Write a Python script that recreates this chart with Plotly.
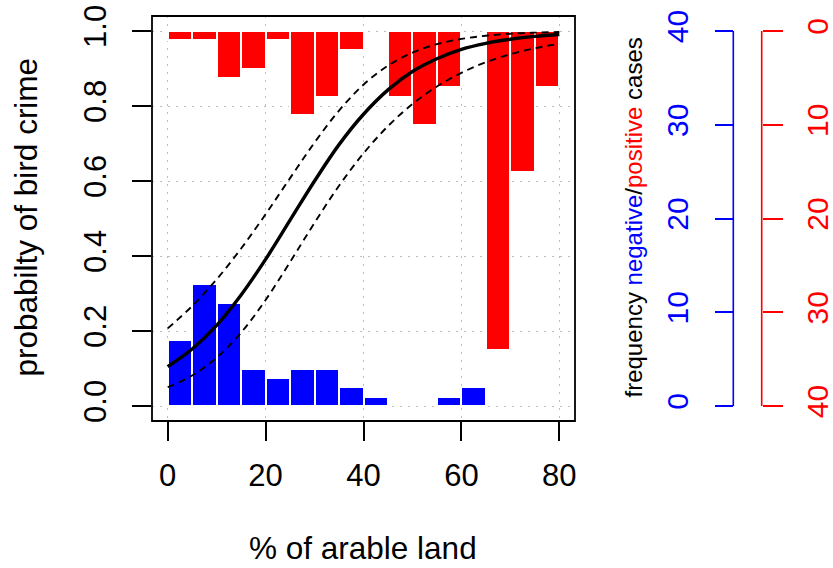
import plotly.graph_objects as go

# ---------------- data ----------------
bin_start = [0, 5, 10, 15, 20, 25, 30, 35, 40, 45, 50, 55, 60, 65, 70, 75]
bin_width = 5
negative_counts = [7, 13, 11, 4, 3, 4, 4, 2, 1, 0, 0, 1, 2, 0, 0, 0]
positive_counts = [1, 1, 5, 4, 1, 9, 7, 2, 0, 7, 10, 6, 0, 34, 15, 6]

curve_x = [0, 5, 10, 15, 20, 25, 30, 35, 40, 45, 50, 55, 60, 65, 70, 75, 80]
fit_prob = [0.105, 0.152, 0.215, 0.296, 0.391, 0.4955, 0.600, 0.697, 0.778,
            0.843, 0.892, 0.926, 0.951, 0.967, 0.978, 0.9857, 0.9906]
upper_prob = [0.207, 0.2665, 0.3376, 0.4199, 0.5112, 0.6076, 0.7026, 0.7878,
              0.8568, 0.9076, 0.9423, 0.9649, 0.9789, 0.9874, 0.9926, 0.9956, 0.9974]
lower_prob = [0.050, 0.0814, 0.1288, 0.1958, 0.2827, 0.3838, 0.4886, 0.5873,
              0.6737, 0.7463, 0.8053, 0.8522, 0.8886, 0.9168, 0.9381, 0.9541, 0.9661]

x_ticks = [0, 20, 40, 60, 80]
y_ticks = [0, 0.2, 0.4, 0.6, 0.8, 1.0]
y_tick_labels = ["0.0", "0.2", "0.4", "0.6", "0.8", "1.0"]
count_ticks = [0, 10, 20, 30, 40]

x_title = "% of arable land"
y_title = "probabilty of bird crime"
right_title = ('frequency <span style="color:#0000FF">negative</span>/'
               '<span style="color:#FF0000">positive</span> cases')

# ---------------- geometry / style ----------------
W, H = 833, 568
ML, MR, MT, MB = 152, 3, 16, 147
PW = W - ML - MR
PH = H - MT - MB
BOX_RIGHT = 575
XDOM = (BOX_RIGHT - ML) / PW
BLUE_POS = (733.3 - ML) / PW
RED_POS = (761.7 - ML) / PW

FONT = "Liberation Sans, Arial, Helvetica, sans-serif"
BLUE = "#0000FF"
RED = "#FF0000"
GRID = "#BEBEBE"

def px_x(p):
    return (p - ML) / PW

def px_y(p):
    return (MT + PH - p) / PH

fig = go.Figure()

centers = [b + bin_width / 2 for b in bin_start]
neg_x = [c for c, n in zip(centers, negative_counts) if n > 0]
neg_y = [n for n in negative_counts if n > 0]
pos_x = [c for c, n in zip(centers, positive_counts) if n > 0]
pos_y = [n for n in positive_counts if n > 0]

# blue (negative) counts -> main y axis (blue count axis)
fig.add_trace(go.Bar(x=neg_x, y=neg_y, width=bin_width, xaxis="x", yaxis="y",
                     marker=dict(color=BLUE, line=dict(color="white", width=2)),
                     showlegend=False))
# red (positive) counts -> reversed red count axis
fig.add_trace(go.Bar(x=pos_x, y=pos_y, width=bin_width, xaxis="x", yaxis="y2",
                     marker=dict(color=RED, line=dict(color="white", width=2)),
                     showlegend=False))
# probability curves -> probability axis (drawn last, on top)
fig.add_trace(go.Scatter(x=curve_x, y=upper_prob, mode="lines", yaxis="y3",
                         line=dict(color="black", width=1.9, dash="7px,5px", shape="spline"),
                         showlegend=False))
fig.add_trace(go.Scatter(x=curve_x, y=lower_prob, mode="lines", yaxis="y3",
                         line=dict(color="black", width=1.9, dash="7px,5px", shape="spline"),
                         showlegend=False))
fig.add_trace(go.Scatter(x=curve_x, y=fit_prob, mode="lines", yaxis="y3",
                         line=dict(color="black", width=3.4, shape="spline"),
                         showlegend=False))

tick_font = dict(family=FONT, size=31, color="black")

fig.update_layout(
    template="none",
    width=W, height=H,
    margin=dict(l=ML, r=MR, t=MT, b=MB, pad=0, autoexpand=False),
    paper_bgcolor="white", plot_bgcolor="white",
    barmode="overlay", bargap=0,
    font=dict(family=FONT, color="black"),
    xaxis=dict(domain=[0, XDOM], range=[-3.2, 83.2], tickvals=x_ticks,
               anchor="y3", automargin=False,
               ticks="outside", ticklen=19, tickwidth=1.5, tickcolor="black",
               tickfont=tick_font, ticklabelstandoff=8,
               showgrid=True, gridcolor=GRID, gridwidth=1.2, griddash="2px,6px",
               zeroline=False, showline=False),
    yaxis=dict(anchor="free", position=BLUE_POS, side="left", automargin=False,
               range=[-1.6, 41.6], tickvals=count_ticks, tickangle=-90,
               ticks="outside", ticklen=18, tickwidth=1.5, tickcolor=BLUE,
               tickfont=dict(family=FONT, size=30, color=BLUE), ticklabelstandoff=15,
               showgrid=False, zeroline=False, showline=False),
    yaxis2=dict(overlaying="y", anchor="free", position=RED_POS, side="right",
                automargin=False,
                range=[41.6, -1.6], tickvals=count_ticks, tickangle=-90,
                ticks="outside", ticklen=20, tickwidth=1.5, tickcolor=RED,
                tickfont=dict(family=FONT, size=30, color=RED), ticklabelstandoff=9,
                showgrid=False, zeroline=False, showline=False),
    yaxis3=dict(overlaying="y", anchor="x", side="left", automargin=False,
                range=[-0.04, 1.04], tickvals=y_ticks, ticktext=y_tick_labels,
                tickangle=-90, ticks="outside", ticklen=19, tickwidth=1.5,
                tickcolor="black", tickfont=tick_font, ticklabelstandoff=14,
                showgrid=True, gridcolor=GRID, gridwidth=1.2, griddash="2px,6px",
                zeroline=False, showline=False),
    shapes=[
        dict(type="rect", xref="x domain", yref="y domain", x0=0, x1=1, y0=0, y1=1,
             line=dict(color="black", width=1.8), layer="above"),
        dict(type="line", xref="paper", yref="y", x0=BLUE_POS, x1=BLUE_POS,
             y0=count_ticks[0], y1=count_ticks[-1], line=dict(color=BLUE, width=1.6)),
        dict(type="line", xref="paper", yref="y2", x0=RED_POS, x1=RED_POS,
             y0=count_ticks[0], y1=count_ticks[-1], line=dict(color=RED, width=1.6)),
    ],
    annotations=[
        dict(text=x_title, xref="paper", yref="paper", x=px_x(363.4), y=px_y(548),
             xanchor="center", yanchor="middle", showarrow=False,
             font=dict(family=FONT, size=31.5, color="black")),
        dict(text=y_title, xref="paper", yref="paper", x=px_x(25), y=px_y(217.5),
             xanchor="center", yanchor="middle", textangle=-90, showarrow=False,
             font=dict(family=FONT, size=31.5, color="black")),
        dict(text=right_title, xref="paper", yref="paper", x=px_x(633), y=px_y(217.5),
             xanchor="center", yanchor="middle", textangle=-90, showarrow=False,
             font=dict(family=FONT, size=24, color="black")),
    ],
)

fig.write_html("out.html", config={"displayModeBar": False},
               post_script="document.body.style.margin='0px';")
